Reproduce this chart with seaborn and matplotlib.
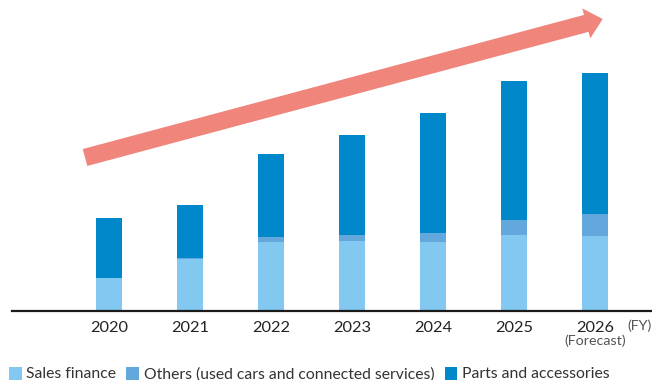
import matplotlib
matplotlib.use("Agg")
import matplotlib.pyplot as plt
from matplotlib.patches import FancyArrow, Patch
import seaborn as sns

# Fiscal years and segment values (relative scale)
years = ["2020", "2021", "2022", "2023", "2024", "2025", "2026"]
sales_finance = [33, 52, 69, 70, 69, 76, 75]
others = [0, 1, 5, 6, 9, 15, 22]
parts_accessories = [60, 53, 83, 100, 120, 139, 141]

series_names = [
    "Sales finance",
    "Others (used cars and connected services)",
    "Parts and accessories",
]
series_colors = ["#82C8F0", "#62A8DC", "#0088CA"]

sns.set_theme(style="white")
plt.rcParams["font.family"] = ["Lato", "DejaVu Sans"]

W, H, DPI = 652, 380, 100
fig = plt.figure(figsize=(W / DPI, H / DPI), dpi=DPI)
ax = fig.add_axes([12 / W, (H - 311) / H, (W - 12) / W, 311 / H])

bottoms = [0] * len(years)
for name, vals, col in zip(series_names, [sales_finance, others, parts_accessories], series_colors):
    sns.barplot(x=years, y=vals, bottom=bottoms, color=col, width=0.32,
                ax=ax, saturation=1, linewidth=0, label=name)
    bottoms = [b + v for b, v in zip(bottoms, vals)]

ax.set_xlim(-1.1975, 6.7037)
ax.set_ylim(0, 311)
ax.set_yticks([])
for side in ["top", "right", "left"]:
    ax.spines[side].set_visible(False)
ax.spines["bottom"].set_color("#1a1a1a")
ax.spines["bottom"].set_linewidth(1.6)
ax.tick_params(axis="x", length=0, pad=7, labelsize=11.8, labelcolor="#222222")
ax.set_xticks(range(len(years)))
ax.set_xticklabels(years)
ax.set_xlabel("")
ax.set_ylabel("")

# Forecast note under the last year and the unit at the axis end
ax.text(len(years) - 1, -30, "(Forecast)", ha="center", va="center",
        fontsize=10.3, color="#555555", transform=ax.transData, clip_on=False)
ax.text(6.7037, -14.5, "(FY)", ha="right", va="center",
        fontsize=10.3, color="#555555", transform=ax.transData, clip_on=False)

# Growth arrow across the chart (figure pixel coordinates)
px = matplotlib.transforms.Affine2D().scale(1 / W, 1 / H) + fig.transFigure
tail = (85, H - 157.5)
tip = (602.7, H - 19)
arrow = FancyArrow(tail[0], tail[1], tip[0] - tail[0], tip[1] - tail[1],
                   width=17.5, head_width=31, head_length=17,
                   length_includes_head=True, color="#F0857C", lw=0,
                   transform=px)
fig.patches.append(arrow)

handles = [Patch(facecolor=c, edgecolor="none") for c in series_colors]
fig.legend(handles, series_names, loc="center left",
           bbox_to_anchor=(9 / W, 6 / H), ncol=3, frameon=False,
           fontsize=11.3, handlelength=0.8, handleheight=0.9,
           handletextpad=0.3, columnspacing=0.65, borderaxespad=0,
           borderpad=0, labelcolor="#333333")
if ax.get_legend() is not None:
    ax.get_legend().remove()

fig.savefig("out.png", dpi=DPI)
